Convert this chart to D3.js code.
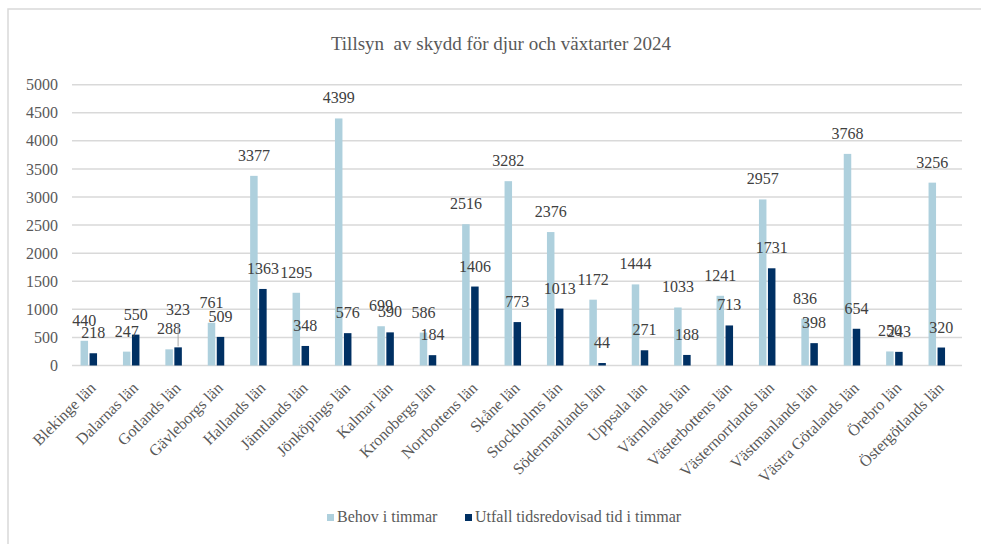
<!DOCTYPE html>
<html>
<head>
<meta charset="utf-8">
<script src="https://cdn.jsdelivr.net/npm/d3@7"></script>
<style>
  body { margin: 0; background: #fff; }
</style>
</head>
<body>
<svg width="981" height="544"></svg>
<script>
var counties = ["Blekinge län", "Dalarnas län", "Gotlands län", "Gävleborgs län", "Hallands län",
  "Jämtlands län", "Jönköpings län", "Kalmar län", "Kronobergs län", "Norrbottens län",
  "Skåne län", "Stockholms län", "Södermanlands län", "Uppsala län", "Värmlands län",
  "Västerbottens län", "Västernorrlands län", "Västmanlands län", "Västra Götalands län",
  "Örebro län", "Östergötlands län"];
var behov = [440, 247, 288, 761, 3377, 1295, 4399, 699, 586, 2516, 3282, 2376, 1172, 1444, 1033,
  1241, 2957, 836, 3768, 250, 3256];
var utfall = [218, 550, 323, 509, 1363, 348, 576, 590, 184, 1406, 773, 1013, 44, 271, 188,
  713, 1731, 398, 654, 243, 320];
var yTicks = [0, 500, 1000, 1500, 2000, 2500, 3000, 3500, 4000, 4500, 5000];
var seriesNames = ["Behov i timmar", "Utfall tidsredovisad tid i timmar"];

var colors = ["#aed0dd", "#003063"];
var serif = "'Liberation Serif', serif";
var svg = d3.select("svg");

// chart frame
svg.append("rect").attr("x", 8).attr("y", 9).attr("width", 990).attr("height", 560)
  .attr("fill", "#fff").attr("stroke", "#d9d9d9").attr("stroke-width", 1.5);

svg.append("text").attr("x", 501).attr("y", 50).attr("text-anchor", "middle")
  .attr("font-size", 19).attr("fill", "#595959")
  .style("font-family", serif).style("white-space", "pre")
  .text("Tillsyn  av skydd för djur och växtarter 2024");

var y = d3.scaleLinear().domain([0, 5000]).range([365.5, 84.7]);
var x = d3.scaleBand().domain(counties).range([67.6, 958]);

// gridlines + y labels
svg.append("g").selectAll("line").data(yTicks).enter().append("line")
  .attr("x1", 72).attr("x2", 962)
  .attr("y1", function (d) { return y(d); }).attr("y2", function (d) { return y(d); })
  .attr("stroke", "#d9d9d9").attr("stroke-width", 1.5);

svg.append("g").selectAll("text").data(yTicks).enter().append("text")
  .attr("x", 58).attr("y", function (d) { return y(d); }).attr("dy", "0.35em")
  .attr("text-anchor", "end").attr("font-size", 16).attr("fill", "#595959")
  .style("font-family", serif)
  .text(function (d) { return d; });

var bw = 7.5;
var series = [behov, utfall];
var offs = [-8.25, 0.75];
// labels moved by hand in the original (Gotland dark bar)
var labelShift = { "1-2": -17 };

series.forEach(function (vals, s) {
  var g = svg.append("g");
  g.selectAll("rect").data(vals).enter().append("rect")
    .attr("x", function (d, i) { return x(counties[i]) + x.bandwidth() / 2 + offs[s]; })
    .attr("y", function (d) { return y(d); })
    .attr("width", bw)
    .attr("height", function (d) { return y(0) - y(d); })
    .attr("fill", colors[s]);
});

series.forEach(function (vals, s) {
  var g = svg.append("g");
  vals.forEach(function (d, i) {
    var cx = x(counties[i]) + x.bandwidth() / 2 + offs[s] + bw / 2;
    var shift = labelShift[s + "-" + i] || 0;
    var by = y(d) - 15 + shift;
    if (shift) {
      g.append("line").attr("x1", cx).attr("x2", cx).attr("y1", by + 9).attr("y2", y(d) - 1)
        .attr("stroke", "#a6a6a6").attr("stroke-width", 1);
    }
    g.append("text").attr("x", cx).attr("y", by).attr("text-anchor", "middle")
      .attr("font-size", 16).attr("fill", "#404040").style("font-family", serif).text(d);
  });
});

// x labels
svg.append("g").selectAll("text").data(counties).enter().append("text")
  .attr("transform", function (d) {
    return "translate(" + (x(d) + x.bandwidth() / 2 + 4) + ",385) rotate(-45)";
  })
  .attr("dy", "0.35em").attr("text-anchor", "end")
  .attr("font-size", 16).attr("fill", "#595959").style("font-family", serif)
  .text(function (d) { return d; });

// legend
var legX = [327, 465];
legX.forEach(function (lx, i) {
  svg.append("rect").attr("x", lx).attr("y", 514).attr("width", 7).attr("height", 7)
    .attr("fill", colors[i]);
  svg.append("text").attr("x", lx + 10).attr("y", 522).attr("font-size", 16)
    .attr("fill", "#595959").style("font-family", serif).text(seriesNames[i]);
});
</script>
</body>
</html>
